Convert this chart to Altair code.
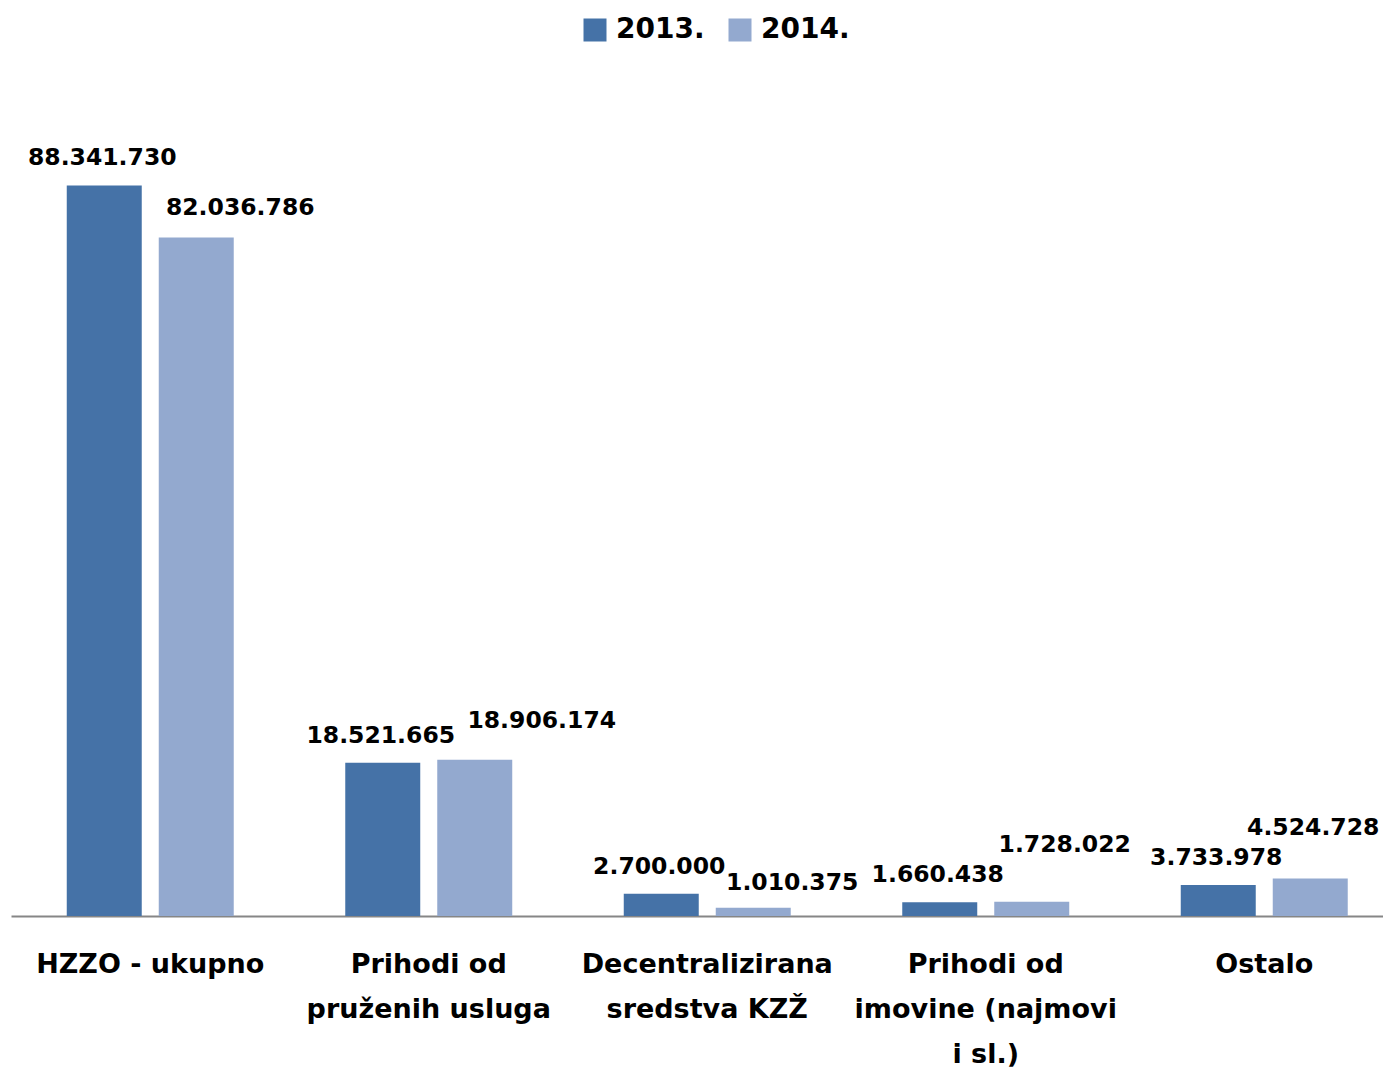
import altair as alt
import pandas as pd

categories = [
    "HZZO - ukupno",
    "Prihodi od|pruženih usluga",
    "Decentralizirana|sredstva KZŽ",
    "Prihodi od|imovine (najmovi|i sl.)",
    "Ostalo",
]
years = ["2013.", "2014."]
values_2013 = [88341730, 18521665, 2700000, 1660438, 3733978]
values_2014 = [82036786, 18906174, 1010375, 1728022, 4524728]

# label nudges (pixels) for the 2014 data labels, as placed in the original
label_dx_2014 = [44, 67, 39, 33, 3]
label_dy_2014 = [-23, -32, -18, -50, -44]

colors = ["#4572A7", "#93A9CF"]


def fmt(v):
    return f"{v:,}".replace(",", ".")


rows = []
for c, v13, v14 in zip(categories, values_2013, values_2014):
    rows.append({"cat": c, "year": years[0], "value": v13, "label": fmt(v13)})
    rows.append({"cat": c, "year": years[1], "value": v14, "label": fmt(v14)})
df = pd.DataFrame(rows)

# the original plot area runs past the right edge of the picture
x_enc = alt.X(
    "cat:N",
    sort=categories,
    scale=alt.Scale(range=[0, 1392.5], paddingInner=0.4004, paddingOuter=0.2002),
    axis=alt.Axis(
        title=None,
        ticks=False,
        labelAngle=0,
        labelExpr="split(datum.label, '|')",
        labelFont="DejaVu Sans",
        labelFontWeight="bold",
        labelFontSize=27,
        labelColor="#000000",
        labelLineHeight=45,
        labelPadding=35,
        labelLimit=500,
        labelOverlap=False,
        labelBound=False,
        domainColor="#868686",
        domainWidth=2,
    ),
)
xoff_enc = alt.XOffset(
    "year:N", sort=years, scale=alt.Scale(paddingInner=0.1848, paddingOuter=0)
)
y_enc = alt.Y("value:Q", axis=None, scale=alt.Scale(domain=[0, 100000000]))

base = alt.Chart(df)

bars = base.mark_bar().encode(
    x=x_enc,
    xOffset=xoff_enc,
    y=y_enc,
    color=alt.Color(
        "year:N",
        sort=years,
        scale=alt.Scale(domain=years, range=colors),
        legend=alt.Legend(
            title=None,
            orient="none",
            legendX=570,
            legendY=-73,
            direction="horizontal",
            symbolType="square",
            symbolSize=529,
            symbolStrokeWidth=0,
            symbolOpacity=1,
            labelFont="DejaVu Sans",
            labelFontWeight="bold",
            labelFontSize=28,
            labelColor="#000000",
            labelOffset=7,
            columnPadding=21,
            padding=0,
        ),
    ),
)

text_style = dict(
    font="DejaVu Sans",
    fontWeight="bold",
    fontSize=23.5,
    color="#000000",
    align="center",
    baseline="alphabetic",
)

layers = [bars]
layers.append(
    base.transform_filter(alt.datum.year == years[0])
    .mark_text(dx=-2, dy=-20, **text_style)
    .encode(x=x_enc, xOffset=xoff_enc, y=y_enc, text="label:N")
)
for c, dx, dy in zip(categories, label_dx_2014, label_dy_2014):
    layers.append(
        base.transform_filter((alt.datum.year == years[1]) & (alt.datum.cat == c))
        .mark_text(dx=dx, dy=dy, **text_style)
        .encode(x=x_enc, xOffset=xoff_enc, y=y_enc, text="label:N")
    )

chart = (
    alt.layer(*layers)
    .properties(
        width=1372,
        height=827,
        padding={"left": 3, "top": 81, "right": 0, "bottom": 157},
        autosize=alt.AutoSizeParams(type="none"),
        background="#ffffff",
    )
    .configure_view(stroke=None)
)

chart.save("out.html", embed_options={"renderer": "svg", "actions": False})
